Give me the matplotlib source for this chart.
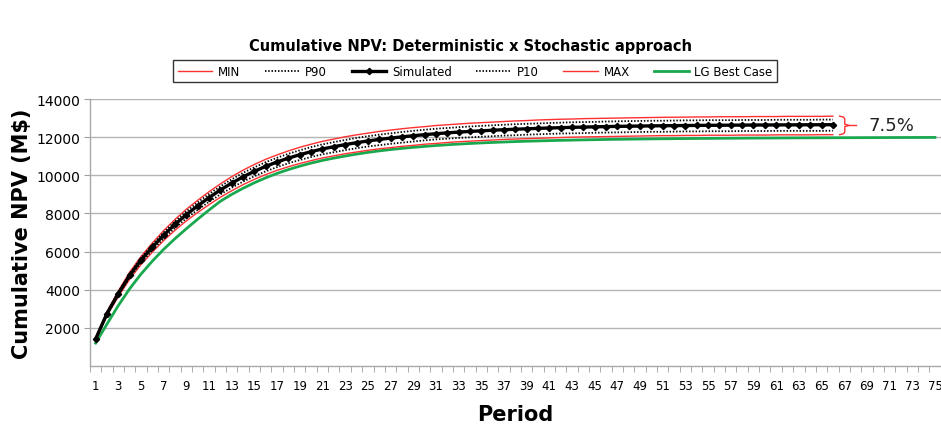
import matplotlib
matplotlib.use("Agg")
import matplotlib.pyplot as plt

plt.rcParams['font.family'] = ['DejaVu Sans']

periods_sim = list(range(1, 67))
periods_lg = list(range(1, 76))

simulated = [1420, 2750, 3800, 4750, 5550, 6230, 6860, 7430, 7940, 8400,
             8830, 9230, 9590, 9920, 10210, 10470, 10700, 10900, 11080, 11240,
             11380, 11500, 11610, 11710, 11800, 11880, 11950, 12015, 12075, 12130,
             12180, 12225, 12265, 12300, 12332, 12362, 12390, 12415, 12438, 12460,
             12480, 12498, 12514, 12528, 12541, 12553, 12564, 12574, 12583, 12591,
             12598, 12604, 12610, 12615, 12620, 12624, 12628, 12632, 12635, 12638,
             12641, 12644, 12646, 12648, 12650, 12652]
max_vals = [1470, 2850, 3930, 4920, 5740, 6450, 7100, 7690, 8220, 8690,
            9140, 9550, 9930, 10270, 10570, 10840, 11070, 11280, 11470, 11630,
            11780, 11900, 12020, 12120, 12210, 12300, 12370, 12440, 12500, 12550,
            12610, 12650, 12690, 12730, 12760, 12790, 12820, 12850, 12870, 12900,
            12920, 12940, 12950, 12970, 12980, 12990, 13000, 13010, 13020, 13030,
            13040, 13045, 13050, 13060, 13060, 13070, 13070, 13070, 13080, 13080,
            13080, 13090, 13090, 13090, 13090, 13100]
p90_vals = [1450, 2810, 3880, 4850, 5670, 6360, 7000, 7590, 8110, 8580,
            9020, 9420, 9790, 10130, 10420, 10690, 10920, 11130, 11310, 11480,
            11620, 11740, 11850, 11960, 12050, 12130, 12200, 12270, 12330, 12390,
            12440, 12480, 12520, 12560, 12590, 12620, 12650, 12680, 12700, 12720,
            12740, 12760, 12780, 12790, 12800, 12820, 12830, 12840, 12850, 12860,
            12860, 12870, 12880, 12880, 12890, 12890, 12890, 12900, 12900, 12900,
            12910, 12910, 12910, 12910, 12920, 12920]
p10_vals = [1385, 2680, 3710, 4630, 5410, 6070, 6690, 7240, 7740, 8190,
            8610, 9000, 9350, 9670, 9950, 10210, 10430, 10630, 10800, 10960,
            11100, 11210, 11320, 11420, 11510, 11580, 11650, 11710, 11770, 11830,
            11880, 11920, 11960, 11990, 12020, 12050, 12080, 12100, 12130, 12150,
            12170, 12190, 12200, 12210, 12230, 12240, 12250, 12260, 12270, 12280,
            12280, 12290, 12300, 12300, 12310, 12310, 12310, 12320, 12320, 12320,
            12330, 12330, 12330, 12330, 12330, 12340]
min_vals = [1360, 2640, 3640, 4550, 5320, 5970, 6580, 7120, 7610, 8050,
            8460, 8850, 9190, 9510, 9790, 10040, 10260, 10450, 10620, 10770,
            10910, 11020, 11130, 11220, 11310, 11390, 11450, 11520, 11570, 11630,
            11670, 11720, 11760, 11790, 11820, 11850, 11880, 11900, 11920, 11940,
            11960, 11980, 12000, 12010, 12020, 12030, 12040, 12050, 12060, 12070,
            12080, 12080, 12090, 12090, 12100, 12100, 12100, 12110, 12110, 12110,
            12120, 12120, 12120, 12120, 12130, 12130]
lg_best = [1200, 2200, 3170, 4050, 4820, 5500, 6120, 6680, 7200, 7700,
           8180, 8640, 9000, 9320, 9610, 9870, 10100, 10300, 10480, 10640,
           10780, 10900, 11010, 11110, 11200, 11280, 11350, 11410, 11465, 11515,
           11560, 11600, 11636, 11668, 11697, 11723, 11746, 11767, 11786, 11803,
           11818, 11832, 11845, 11857, 11868, 11878, 11887, 11895, 11902, 11909,
           11915, 11921, 11926, 11931, 11935, 11939, 11943, 11947, 11950, 11953,
           11956, 11959, 11962, 11964, 11966, 11968, 11970, 11972, 11974, 11976,
           11978, 11980, 11982, 11984, 11986]

y_ticks = [2000, 4000, 6000, 8000, 10000, 12000, 14000]
x_tick_labels = list(range(1, 76, 2))
spread_label = "7.5%"

fig = plt.figure(figsize=(9.41, 4.27), dpi=100)
ax = fig.add_axes([0.0956, 0.1405, 0.904, 0.6253])

red = '#ff3030'
green = '#1aa84f'
dots = (0, (0.8, 1.0))

ax.plot(periods_sim, min_vals, color=red, lw=1.0, label='MIN', zorder=3)
ax.plot(periods_sim, p90_vals, color='black', lw=1.3, ls=dots, label='P90', zorder=4)
ax.plot(periods_sim, simulated, color='black', lw=2.4, marker='D', ms=3.2,
        label='Simulated', zorder=5)
ax.plot(periods_sim, p10_vals, color='black', lw=1.3, ls=dots, label='P10', zorder=4)
ax.plot(periods_sim, max_vals, color=red, lw=1.0, label='MAX', zorder=3)
ax.plot(periods_lg, lg_best, color=green, lw=2.0, label='LG Best Case', zorder=2)

ax.set_xlim(0.5, 75.5)
ax.set_ylim(0, 14000)
ax.set_yticks(y_ticks)
ax.set_yticklabels([str(v) for v in y_ticks], fontsize=10)
ax.set_xticks(x_tick_labels)
ax.set_xticklabels([str(v) for v in x_tick_labels], fontsize=8.5)
ax.set_xticks([i + 0.5 for i in range(0, 76)], minor=True)
ax.tick_params(axis='x', which='major', length=0, pad=9)
ax.tick_params(axis='x', which='minor', length=4, color='#a0a0a0')
ax.tick_params(axis='y', length=4, color='#a0a0a0', pad=3)
ax.grid(axis='y', color='#b4b4b4', lw=1.0)
ax.set_axisbelow(True)
for s in ['top', 'right']:
    ax.spines[s].set_visible(False)
for s in ['left', 'bottom']:
    ax.spines[s].set_color('#a8a8a8')
    ax.spines[s].set_linewidth(1.0)

ax.set_ylabel('Cumulative NPV (M$)', fontsize=15, fontweight='bold', labelpad=3)
ax.set_xlabel('Period', fontsize=15, fontweight='bold', labelpad=9)

fig.text(0.5, 0.89, 'Cumulative NPV: Deterministic x Stochastic approach',
         fontsize=10.5, fontweight='bold', ha='center', va='center')

leg = fig.legend(loc='center', bbox_to_anchor=(0.505, 0.831), ncol=6,
                 fontsize=8.5, frameon=True, fancybox=False, edgecolor='black',
                 handlelength=2.9, columnspacing=2.1, borderpad=0.4,
                 handletextpad=0.5, borderaxespad=0.0)
leg.get_frame().set_linewidth(1.0)

# brace marking the spread between MAX and MIN at the last simulated period
top = max_vals[-1]
bot = min_vals[-1]
mid = (top + bot) / 2
x0 = periods_sim[-1] + 0.6
bx = [x0, x0 + 0.35, x0 + 0.45, x0 + 0.45, x0 + 0.85, x0 + 0.45, x0 + 0.45, x0 + 0.35, x0]
by = [top, top - 50, top - 150, mid + 60, mid, mid - 60, bot + 150, bot + 50, bot]
ax.plot(bx, by, color=red, lw=1.0, clip_on=False, zorder=6)
ax.plot([x0 + 0.85, x0 + 1.45], [mid, mid], color=red, lw=1.0, clip_on=False, zorder=6)
ax.text(x0 + 2.5, mid, spread_label, fontsize=13, va='center', ha='left', color='#222222')

fig.savefig('out.png', dpi=100)
